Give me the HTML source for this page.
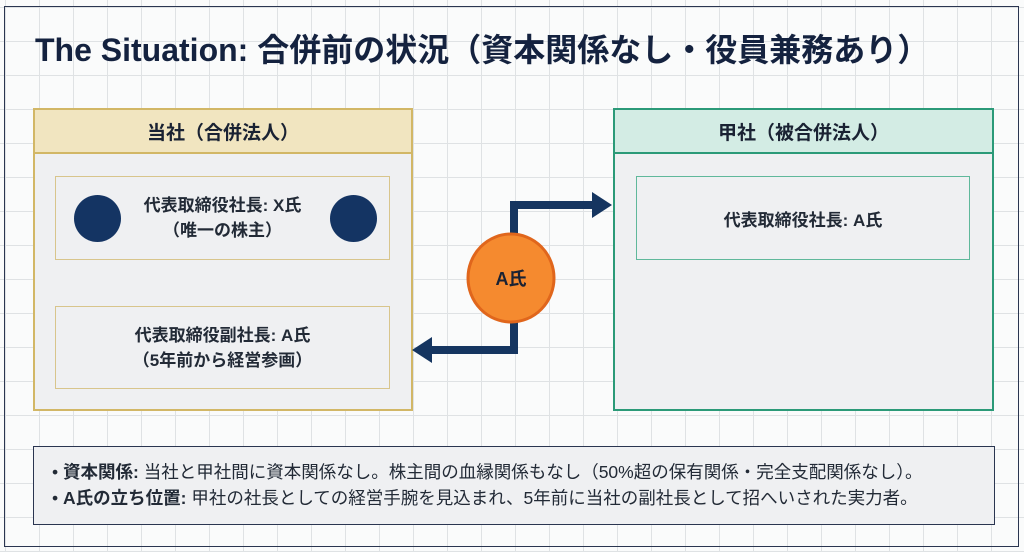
<!DOCTYPE html>
<html><head><meta charset="utf-8"><style>
body{margin:0;width:1024px;height:552px;overflow:hidden;font-family:"Liberation Sans","Noto Sans CJK JP",sans-serif;color:#1a2233;
background-color:#fafbfb;background-image:linear-gradient(#dfe2e4 1px,transparent 1px),linear-gradient(90deg,#dfe2e4 1px,transparent 1px);background-size:34px 34px;background-position:5px 7px;position:relative}
.a{position:absolute;box-sizing:border-box}
.t{display:flex;align-items:center;justify-content:center;text-align:center}
</style></head><body>
<div class="a" style="left:4px;top:6px;width:1015px;height:541px;border:1.5px solid #2a3550"></div>
<div class="a" style="left:35px;top:25px;font-size:32px;font-weight:bold;color:#14223f;white-space:nowrap">The Situation: 合併前の状況（資本関係なし・役員兼務あり）</div>

<div class="a" style="left:33px;top:108px;width:380px;height:303px;border:2px solid #d2b766;background:#eff0f2"></div>
<div class="a t" style="left:33px;top:108px;width:380px;height:46px;border:2px solid #d2b766;background:#f1e5c0;font-size:19px;font-weight:bold">当社（合併法人）</div>
<div class="a t" style="left:55px;top:176px;width:335px;height:84px;border:1.5px solid #d8c58c;font-size:17px;line-height:25px;font-weight:bold;color:#222a36">代表取締役社長: X氏<br>（唯一の株主）</div>
<div class="a" style="left:74px;top:195px;width:47px;height:47px;border-radius:50%;background:#143463"></div>
<div class="a" style="left:330px;top:195px;width:47px;height:47px;border-radius:50%;background:#143463"></div>
<div class="a t" style="left:55px;top:306px;width:335px;height:83px;border:1.5px solid #d8c58c;font-size:17px;line-height:25px;font-weight:bold;color:#222a36">代表取締役副社長: A氏<br>（5年前から経営参画）</div>

<div class="a" style="left:613px;top:108px;width:381px;height:303px;border:2px solid #2b9a78;background:#eff0f2"></div>
<div class="a t" style="left:613px;top:108px;width:381px;height:46px;border:2px solid #2b9a78;background:#d3ece4;font-size:19px;font-weight:bold">甲社（被合併法人）</div>
<div class="a t" style="left:636px;top:176px;width:334px;height:84px;border:1.5px solid #5fb89b;font-size:17px;font-weight:bold;color:#222a36">代表取締役社長: A氏</div>

<svg class="a" style="left:0;top:0" width="1024" height="552">
<polyline points="514,240 514,205 594,205" fill="none" stroke="#153560" stroke-width="8"/>
<polygon points="592,192 612,205 592,218" fill="#153560"/>
<polyline points="514,320 514,350 430,350" fill="none" stroke="#153560" stroke-width="8"/>
<polygon points="432,337 412,350 432,363" fill="#153560"/>
<ellipse cx="511" cy="278" rx="43" ry="44" fill="#f58a2f" stroke="#e0661c" stroke-width="3"/>
<text x="511" y="285" text-anchor="middle" font-size="18" font-weight="bold" fill="#1a2233" font-family="Liberation Sans, Noto Sans CJK JP, sans-serif">A氏</text>
</svg>

<div class="a" style="left:33px;top:446px;width:962px;height:79px;border:1.5px solid #2a3550;background:#eff0f2;padding:12px 0 0 18px;font-size:17.5px;line-height:26px;white-space:nowrap;color:#222a36">
• <b>資本関係:</b> 当社と甲社間に資本関係なし。株主間の血縁関係もなし（50%超の保有関係・完全支配関係なし）。<br>
• <b>A氏の立ち位置:</b> 甲社の社長としての経営手腕を見込まれ、5年前に当社の副社長として招へいされた実力者。
</div>
</body></html>
